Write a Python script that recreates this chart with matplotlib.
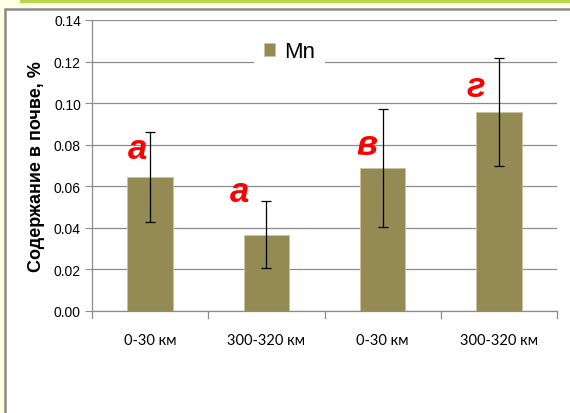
import matplotlib.pyplot as plt
from matplotlib.patches import Rectangle

categories = ["0-30 км", "300-320 км", "0-30 км", "300-320 км"]
mn_values = [0.0645, 0.0368, 0.0688, 0.0956]
mn_errors = [0.0217, 0.0159, 0.0282, 0.0260]
letters = ["а", "а", "в", "г"]
letter_y = [0.0780, 0.0577, 0.0800, 0.1078]
letter_dx = [-0.11, -0.23, -0.14, -0.20]

W, H = 570, 414
fig = plt.figure(figsize=(W / 100, H / 100), dpi=100)
fig.patch.set_facecolor("#ffffe3")

# slide decorations: green band on top, white box with grey border
fig.patches.append(Rectangle((20 / W, 1 - 4 / H), 1, 4 / H, transform=fig.transFigure,
                             facecolor="#b6d94a", edgecolor="none", zorder=-2))
fig.patches.append(Rectangle((4.5 / W, -0.01), 1, 1 - 9.5 / H + 0.01, transform=fig.transFigure,
                             facecolor="white", edgecolor="#8a8a8a", linewidth=1.8, zorder=-2))

ax = fig.add_axes([92 / W, 1 - 312 / H, (557 - 92) / W, (312 - 21) / H])
ax.set_facecolor("white")

x = list(range(len(categories)))
bars = ax.bar(x, mn_values, width=0.39, color="#948a54", edgecolor="#c9c39f",
              linewidth=0.6, label="Mn", zorder=3)
ax.errorbar(x, mn_values, yerr=mn_errors, fmt="none", ecolor="black",
            elinewidth=0.9, capsize=3.5, capthick=0.9, zorder=4)

for i, (t, y) in enumerate(zip(letters, letter_y)):
    ax.text(i + letter_dx[i], y, t, color="red", fontsize=25, style="italic",
            fontweight="bold", family="Liberation Sans", ha="center", va="center", zorder=5)

ax.set_xlim(-0.5, 3.5)
ax.set_ylim(0, 0.14)
ax.set_yticks([i * 0.02 for i in range(8)])
ax.set_yticklabels(["%.2f" % (i * 0.02) for i in range(8)], family="Liberation Sans", fontsize=10)
ax.yaxis.grid(True, color="#8c8c8c", linewidth=0.9, zorder=0)
ax.set_axisbelow(True)
ax.tick_params(axis="y", length=5, color="#8c8c8c", pad=3)

ax.set_xticks(x)
ax.set_xticklabels(categories, family="Lato", fontsize=10.5)
ax.tick_params(axis="x", length=0, pad=16)
for b in [-0.5, 0.5, 1.5, 2.5, 3.5]:
    ax.plot([b, b], [0, -0.0035], color="#8c8c8c", linewidth=0.9, clip_on=False)

for s in ["top", "right"]:
    ax.spines[s].set_visible(False)
for s in ["left", "bottom"]:
    ax.spines[s].set_color("#8c8c8c")
    ax.spines[s].set_linewidth(0.9)

ax.set_ylabel("Содержание в почве, %", family="Liberation Sans", fontsize=13,
              fontweight="bold", labelpad=6)

leg = ax.legend(loc="upper center", bbox_to_anchor=(0.425, 1.0), frameon=True,
                prop={"family": "Liberation Sans", "size": 16}, handlelength=0.5,
                handleheight=0.5, handletextpad=0.4, borderpad=0.45, fancybox=False)
leg.get_frame().set_edgecolor("none")
leg.get_frame().set_facecolor("white")
leg.get_frame().set_alpha(1)

fig.savefig("out.png", dpi=100, facecolor=fig.get_facecolor())
